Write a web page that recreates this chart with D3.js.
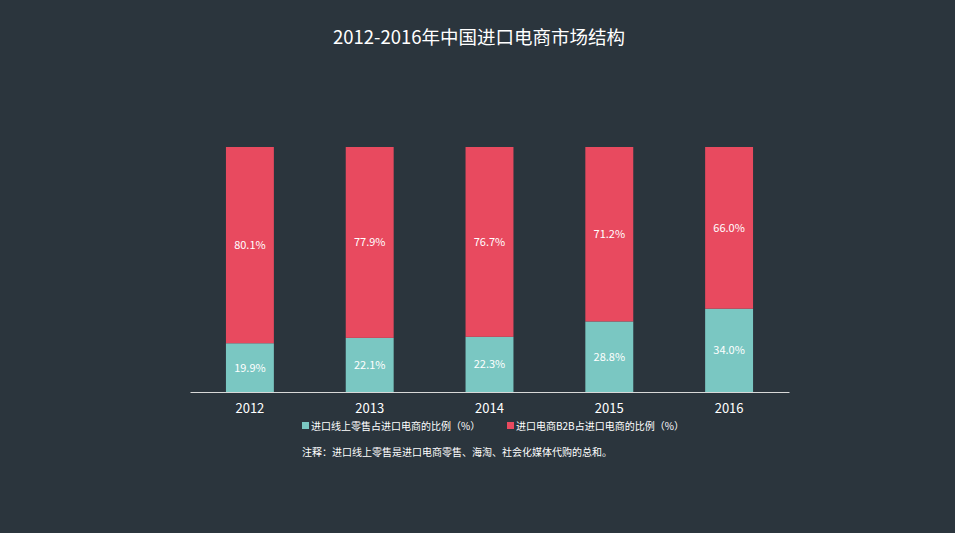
<!DOCTYPE html>
<html><head><meta charset="utf-8">
<script src="https://cdn.jsdelivr.net/npm/d3@7"></script>
<style>body{margin:0;background:#2b353d;}svg{display:block;font-family:"Noto Sans CJK SC","Noto Sans",sans-serif;}</style>
</head><body><svg id="c" width="955" height="533"></svg>
<script>
const years = ["2012","2013","2014","2015","2016"];
const retail = [19.9,22.1,22.3,28.8,34.0];
const b2b = [80.1,77.9,76.7,71.2,66.0];
const seriesNames = ["进口线上零售占进口电商的比例（%）","进口电商B2B占进口电商的比例（%）"];
const colors = ["#7ac7c2","#e84a5f"];
const title = "2012-2016年中国进口电商市场结构";
const note = "注释：进口线上零售是进口电商零售、海淘、社会化媒体代购的总和。";

const svg = d3.select("#c");
svg.append("rect").attr("width",955).attr("height",533).attr("fill","#2b353d");
const x = d3.scaleBand().domain(years).range([190,789]).paddingInner(0.6).paddingOuter(0.3);
const y = d3.scaleLinear().domain([0,1]).range([392,147]);

svg.append("text").attr("x",479).attr("y",44).attr("text-anchor","middle").attr("fill","#ffffff").attr("font-size",18.5).text(title);

const data = years.map((yr,i)=>({yr, vals:[retail[i], b2b[i]]}));
data.forEach(d=>{
  const total = d3.sum(d.vals);
  let acc=0;
  d.vals.forEach((v,k)=>{
    const y0=acc, y1=acc+v/total; acc=y1;
    svg.append("rect").attr("x",x(d.yr)).attr("width",x.bandwidth())
      .attr("y",y(y1)).attr("height",y(y0)-y(y1)).attr("fill",colors[k]);
    svg.append("text").attr("x",x(d.yr)+x.bandwidth()/2).attr("y",(y(y0)+y(y1))/2+4)
      .attr("text-anchor","middle").attr("fill","#ffffff").attr("font-size",11).text(v.toFixed(1)+"%");
  });
});

const ax = svg.append("g").attr("transform","translate(0,392)").call(d3.axisBottom(x).tickSize(0).tickPadding(12));
ax.select(".domain").attr("stroke","#d9d9d9");
ax.selectAll("text").attr("fill","#ffffff").attr("font-size",13).attr("font-family","\"Noto Sans CJK SC\",sans-serif");

const legX=[302,507];
seriesNames.forEach((n,k)=>{
  svg.append("rect").attr("x",legX[k]).attr("y",422).attr("width",7).attr("height",7).attr("fill",colors[k]);
  svg.append("text").attr("x",legX[k]+9).attr("y",430).attr("fill","#ffffff").attr("font-size",10).text(n);
});
svg.append("text").attr("x",302).attr("y",456).attr("fill","#ffffff").attr("font-size",10).text(note);
</script></body></html>
